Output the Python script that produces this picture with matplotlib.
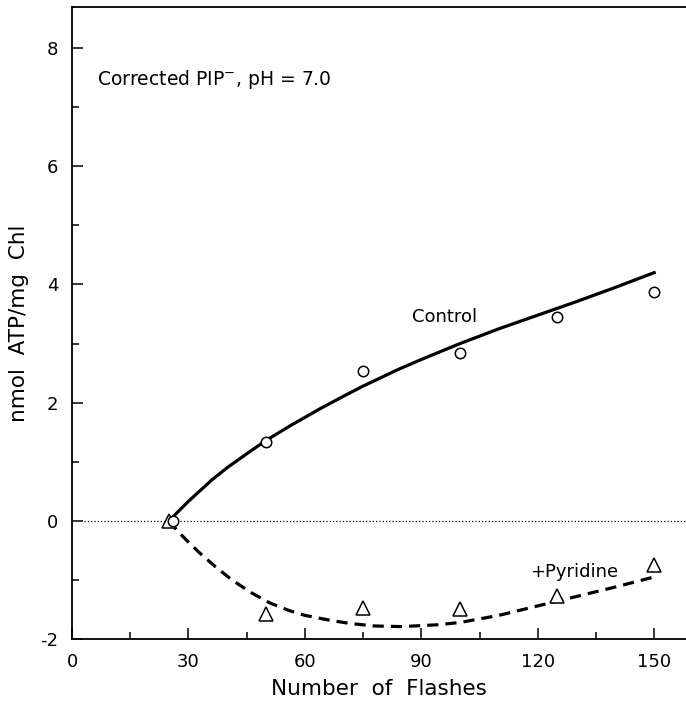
import matplotlib
matplotlib.use('Agg')
import matplotlib.pyplot as plt
from matplotlib.ticker import MultipleLocator

plt.rcParams['font.family'] = ['DejaVu Sans']
plt.rcParams['axes.unicode_minus'] = False

# measured points
flashes = [26, 50, 75, 100, 125, 150]
control = [0.0, 1.34, 2.53, 2.84, 3.45, 3.87]
pyr_flashes = [25, 50, 75, 100, 125, 150]
pyridine = [0.0, -1.58, -1.48, -1.50, -1.28, -0.75]

# fitted curves
ctrl_fit_x = [25, 30, 36, 40, 46, 50, 56, 64, 70, 75, 84, 90, 100, 110, 120, 130, 140, 150]
ctrl_fit_y = [0.0, 0.33, 0.69, 0.90, 1.18, 1.36, 1.60, 1.90, 2.11, 2.28, 2.56, 2.73,
              3.00, 3.25, 3.48, 3.71, 3.95, 4.20]
pyr_fit_x = [25, 27, 30, 33, 37, 41, 46, 51, 56, 60, 67, 72, 78, 85, 94, 100, 110, 120, 130, 140, 150]
pyr_fit_y = [0.0, -0.16, -0.36, -0.55, -0.78, -0.99, -1.21, -1.39, -1.52, -1.60, -1.69, -1.74,
             -1.78, -1.79, -1.76, -1.72, -1.60, -1.44, -1.28, -1.12, -0.95]

fig = plt.figure(figsize=(6.86, 7.06), dpi=100)
ax = fig.add_axes([72/686, 67/706, 1 - 72/686, 631.7/706])

ax.axhline(0, color='black', lw=0.9, ls=':', xmin=0.02)
ax.plot(ctrl_fit_x, ctrl_fit_y, color='black', lw=2.3)
ax.plot(pyr_fit_x, pyr_fit_y, color='black', lw=2.3, dashes=(3.5, 2.2))
ax.plot(pyr_flashes, pyridine, ls='none', marker='^', ms=9.5, mfc='white', mec='black', mew=1.1)
ax.plot(flashes, control, ls='none', marker='o', ms=7.5, mfc='white', mec='black', mew=1.1)

ax.text(6.4, 7.46, r'Corrected PIP$^{-}$, pH = 7.0', fontsize=13.5, ha='left', va='center')
ax.text(96, 3.45, 'Control', fontsize=13, ha='center', va='center')
ax.text(140.7, -0.86, '+Pyridine', fontsize=13, ha='right', va='center')

ax.set_xlim(0, 158.2)
ax.set_ylim(-2, 8.69)
ax.xaxis.set_major_locator(MultipleLocator(30))
ax.xaxis.set_minor_locator(MultipleLocator(15))
ax.yaxis.set_major_locator(MultipleLocator(2))
ax.yaxis.set_minor_locator(MultipleLocator(1))
ax.tick_params(which='both', direction='in', labelsize=13, width=1.1)
ax.tick_params(which='major', length=8, pad=10)
ax.tick_params(which='minor', length=5)
ax.spines['right'].set_visible(False)
for s in ['left', 'bottom', 'top']:
    ax.spines[s].set_linewidth(1.3)

ax.set_xlabel('Number  of  Flashes', fontsize=15.5, labelpad=6)
ax.set_ylabel('nmol  ATP/mg  Chl', fontsize=15.5, labelpad=8)

fig.savefig('out.png', dpi=100)
